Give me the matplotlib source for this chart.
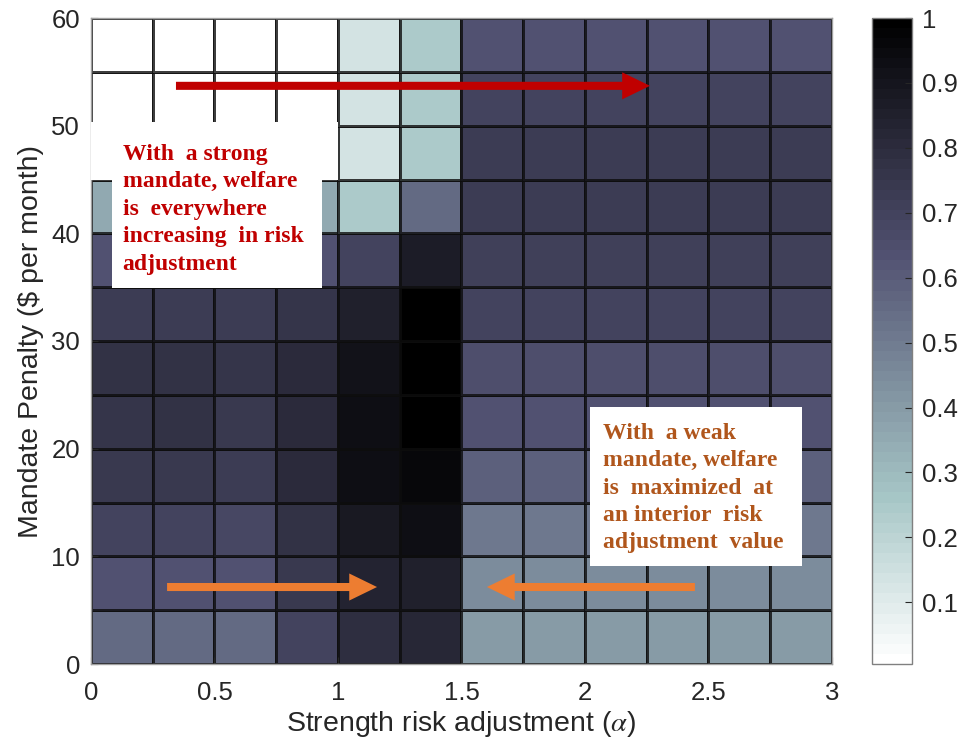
import numpy as np
import matplotlib
matplotlib.use("Agg")
import matplotlib.pyplot as plt
from matplotlib.patches import Rectangle

plt.rcParams['font.family'] = ['Liberation Sans', 'DejaVu Sans']
plt.rcParams['mathtext.fontset'] = 'stix'

# ---- data ----
alpha_edges = np.arange(0, 3.0001, 0.25)      # 12 columns
penalty_edges = np.arange(0, 60.0001, 5)      # 12 rows
# rows from penalty 0-5 (bottom) to 55-60 (top); columns alpha 0 .. 3
welfare = np.array([
    [0.56, 0.56, 0.56, 0.70, 0.79, 0.82, 0.40, 0.40, 0.40, 0.40, 0.40, 0.40],
    [0.64, 0.64, 0.63, 0.75, 0.84, 0.86, 0.45, 0.45, 0.45, 0.45, 0.45, 0.45],
    [0.69, 0.69, 0.68, 0.78, 0.88, 0.93, 0.51, 0.51, 0.51, 0.51, 0.51, 0.51],
    [0.75, 0.74, 0.73, 0.81, 0.93, 0.96, 0.59, 0.59, 0.59, 0.59, 0.59, 0.59],
    [0.76, 0.77, 0.75, 0.81, 0.93, 1.00, 0.63, 0.63, 0.63, 0.63, 0.63, 0.63],
    [0.77, 0.77, 0.76, 0.80, 0.91, 1.00, 0.65, 0.65, 0.65, 0.65, 0.65, 0.65],
    [0.73, 0.73, 0.73, 0.76, 0.85, 0.99, 0.70, 0.70, 0.70, 0.70, 0.70, 0.70],
    [0.63, 0.63, 0.63, 0.63, 0.69, 0.87, 0.72, 0.72, 0.72, 0.72, 0.72, 0.72],
    [0.36, 0.36, 0.36, 0.36, 0.24, 0.56, 0.73, 0.73, 0.73, 0.73, 0.73, 0.73],
    [0.005, 0.005, 0.005, 0.005, 0.13, 0.24, 0.73, 0.73, 0.73, 0.73, 0.73, 0.73],
    [0.005, 0.005, 0.005, 0.005, 0.13, 0.24, 0.70, 0.70, 0.70, 0.70, 0.70, 0.70],
    [0.005, 0.005, 0.005, 0.005, 0.13, 0.24, 0.63, 0.63, 0.63, 0.63, 0.63, 0.63],
])
x_ticks = [0, 0.5, 1, 1.5, 2, 2.5, 3]
x_ticklabels = ['0', '0.5', '1', '1.5', '2', '2.5', '3']
y_ticks = [0, 10, 20, 30, 40, 50, 60]
cbar_ticks = [0.1, 0.2, 0.3, 0.4, 0.5, 0.6, 0.7, 0.8, 0.9, 1.0]
cbar_ticklabels = ['0.1', '0.2', '0.3', '0.4', '0.5', '0.6', '0.7', '0.8', '0.9', '1']

strong_text = "With  a strong\nmandate, welfare\nis  everywhere\nincreasing  in risk\nadjustment"
weak_text = "With  a weak\nmandate, welfare\nis  maximized  at\nan interior  risk\nadjustment  value"

# ---- figure ----
W, H = 959, 748
fig = plt.figure(figsize=(W / 100, H / 100), dpi=100)
ax = fig.add_axes([91 / W, 84 / H, 741 / W, 646 / H])
cax = fig.add_axes([872 / W, 84 / H, 40 / W, 646 / H])

cmap = plt.get_cmap('bone_r', 64)
mesh = ax.pcolormesh(alpha_edges, penalty_edges, welfare, cmap=cmap,
                     vmin=0.005, vmax=1.0, edgecolors=(0.05, 0.05, 0.05, 0.8),
                     linewidth=1.0)

ax.set_xlim(0, 3)
ax.set_ylim(0, 60)
ax.set_xticks(x_ticks)
ax.set_xticklabels(x_ticklabels)
ax.set_yticks(y_ticks)
tick_color = '#262626'
ax.tick_params(direction='in', length=5, width=0.8, labelsize=18.5,
               colors=tick_color)
ax.tick_params(axis='x', pad=12)
ax.tick_params(axis='y', pad=8)
for s in ax.spines.values():
    s.set_color('#a0a0a0')
    s.set_linewidth(1.0)

ax.set_xlabel(r'Strength risk adjustment ($\alpha$)', fontsize=20.5,
              color=tick_color, labelpad=3)
ax.set_ylabel('Mandate Penalty ($ per month)', fontsize=20.5,
              color=tick_color, labelpad=5)

# colorbar
cb = fig.colorbar(mesh, cax=cax, ticks=cbar_ticks)
cb.ax.set_yticklabels(cbar_ticklabels)
cb.ax.tick_params(direction='in', length=5, width=0.8, labelsize=18.5,
                  colors=tick_color, pad=7)
cb.outline.set_edgecolor('#808080')
cb.outline.set_linewidth(1.0)

# ---- annotations ----
ax.add_patch(Rectangle((0, 45), 1.0, 5.3, facecolor='white', edgecolor='none',
                       zorder=3))
ax.add_patch(Rectangle((0.085, 34.9), 0.85, 15.3, facecolor='white',
                       edgecolor='none', zorder=3))
ax.text(0.128, 48.3, strong_text, fontsize=17, fontweight='bold',
        family='Liberation Serif', color='#C00000', va='top', ha='left',
        linespacing=1.4, zorder=4)

ax.add_patch(Rectangle((2.02, 9.1), 0.86, 14.8, facecolor='white',
                       edgecolor='none', zorder=3))
ax.text(2.073, 22.4, weak_text, fontsize=17, fontweight='bold',
        family='Liberation Serif', color='#B0561C', va='top', ha='left',
        linespacing=1.4, zorder=4)

# arrows (flat tail, triangular head)
arrow_kw = dict(width=5.8, headwidth=19.5, headlength=20, shrink=0)
ax.annotate('', xy=(2.263, 53.7), xytext=(0.344, 53.7),
            arrowprops=dict(color='#C00000', lw=0, **arrow_kw), zorder=5)
ax.annotate('', xy=(1.158, 7.15), xytext=(0.308, 7.15),
            arrowprops=dict(color='#ED7D31', lw=0, **arrow_kw), zorder=5)
ax.annotate('', xy=(1.603, 7.15), xytext=(2.445, 7.15),
            arrowprops=dict(color='#ED7D31', lw=0, **arrow_kw), zorder=5)

fig.savefig('out.png', dpi=100)
